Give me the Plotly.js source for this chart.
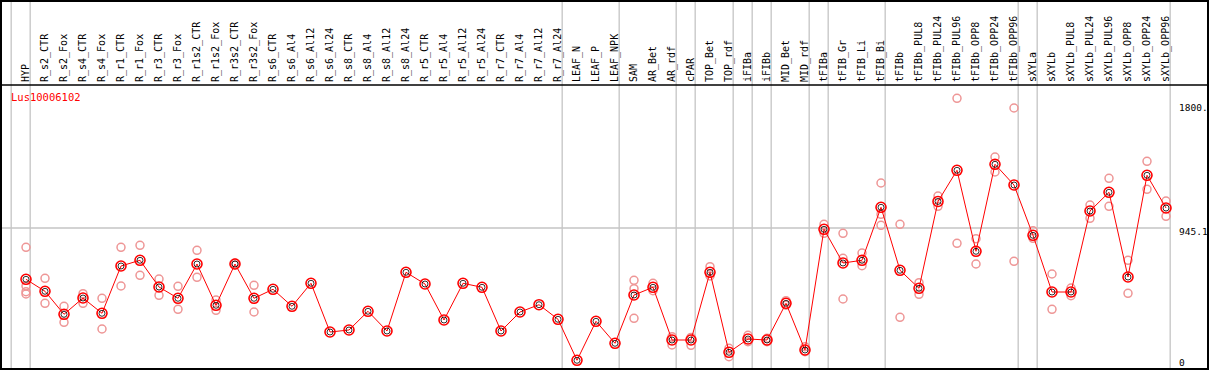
<!DOCTYPE html>
<html><head><meta charset="utf-8">
<script src="https://cdn.plot.ly/plotly-3.0.1.min.js"></script>
<style>html,body{margin:0;padding:0;background:#fff;}#chart{width:1209px;height:370px;}</style>
</head><body><div id="chart"></div>
<script>
const geneName = "Lus10006102";
const categories = ["HYP","R_s2_CTR","R_s2_Fox","R_s4_CTR","R_s4_Fox","R_r1_CTR","R_r1_Fox","R_r3_CTR","R_r3_Fox","R_r1s2_CTR","R_r1s2_Fox","R_r3s2_CTR","R_r3s2_Fox","R_s6_CTR","R_s6_Al4","R_s6_Al12","R_s6_Al24","R_s8_CTR","R_s8_Al4","R_s8_Al12","R_s8_Al24","R_r5_CTR","R_r5_Al4","R_r5_Al12","R_r5_Al24","R_r7_CTR","R_r7_Al4","R_r7_Al12","R_r7_Al24","LEAF_N","LEAF_P","LEAF_NPK","SAM","AR_Bet","AR_rdf","cPAR","TOP_Bet","TOP_rdf","iFIBa","iFIBb","MID_Bet","MID_rdf","tFIBa","tFIB_Gr","tFIB_Li","tFIB_Bi","tFIBb","tFIBb_PUL8","tFIBb_PUL24","tFIBb_PUL96","tFIBb_OPP8","tFIBb_OPP24","tFIBb_OPP96","sXYLa","sXYLb","sXYLb_PUL8","sXYLb_PUL24","sXYLb_PUL96","sXYLb_OPP8","sXYLb_OPP24","sXYLb_OPP96"];
const means = [586,502,341,455,348,679,719,532,453,693,404,693,453,516,397,558,217,231,362,224,635,553,301,558,530,224,357,408,306,19,292,138,476,530,161,161,635,75,168,161,418,91,936,700,719,1090,649,523,1131,1349,782,1391,1246,894,497,497,1064,1195,602,1314,1085];
const rep1 = [810,593,397,485,453,810,824,588,537,789,441,700,544,null,null,null,null,null,null,null,null,null,null,null,null,null,null,null,null,null,null,null,579,558,184,179,674,103,194,173,436,114,971,908,770,1260,971,562,1169,1853,870,1442,1785,926,623,525,1106,1293,719,1412,1134];
const rep2 = [539,418,285,418,238,539,614,474,376,600,369,686,357,null,null,null,null,null,null,null,null,null,null,null,null,null,null,null,null,null,null,null,520,506,126,124,609,44,149,149,405,79,908,733,681,1041,320,481,1097,838,693,1337,712,873,376,471,1013,1097,488,1216,1027];
const rep3 = [499,null,null,null,null,null,null,null,null,null,null,null,null,null,null,null,null,null,null,null,null,null,null,null,null,null,null,null,null,null,null,null,313,null,null,null,null,null,null,null,null,null,null,448,null,964,null,null,null,null,null,null,null,null,null,null,null,null,null,null,null];
const rep4 = [483,null,null,null,null,null,null,null,null,null,null,null,null,null,null,null,null,null,null,null,null,null,null,null,null,null,null,null,null,null,null,null,null,null,null,null,null,null,null,null,null,null,null,null,null,null,null,null,null,null,null,null,null,null,null,null,null,null,null,null,null];
const groupEnds = ["HYP","R_r7_Al24","LEAF_NPK","AR_rdf","cPAR","TOP_rdf","iFIBa","iFIBb","MID_rdf","tFIBa","tFIB_Bi","tFIBb_OPP96","sXYLa","sXYLb_OPP96"];
const refLine = 945.1;
const yTickValues = [0, 945.1, 1800];
const yTickLabels = ["0", "945.1", "1800."];

const repX = [], repY = [];
[rep1,rep2,rep3,rep4].forEach(r => r.forEach((v,i) => { if (v !== null) { repX.push(categories[i]); repY.push(v); } }));

const traces = [
  {x: categories, y: means, type:'scatter', mode:'none', hoverinfo:'skip', showlegend:false},
  {x: repX, y: repY, type:'scatter', mode:'markers', hoverinfo:'skip',
   marker:{symbol:'circle-open', size:8, color:'rgb(238,150,150)', line:{width:1.5, color:'rgb(238,150,150)'}}},
  {x: categories, y: means, type:'scatter', mode:'lines', hoverinfo:'skip',
   line:{color:'#ff0000', width:1}},
  {x: categories, y: means, type:'scatter', mode:'markers', hoverinfo:'skip',
   marker:{symbol:'circle-open', size:10, color:'#ff0000', line:{width:1.6, color:'#ff0000'}}},
  {x: categories, y: means, type:'scatter', mode:'markers', hoverinfo:'skip',
   marker:{symbol:'circle-open', size:6, color:'#000000', line:{width:0.8, color:'#3a0000'}}}
];

const W = 1209, H = 370, T = 85;
const plotH = H - T;
const xLo = -26/19, xHi = (W-26)/19;
const pxToPaperY = py => (H - py) / plotH;
const shapes = [];
const sepIdx = [-1].concat(groupEnds.map(n => categories.indexOf(n)));
sepIdx.forEach(i => shapes.push({type:'line', xref:'x', yref:'paper', x0:i+0.22, x1:i+0.22, y0:0, y1:pxToPaperY(0), line:{color:'#c4c4c4', width:1.3}, layer:'below'}));
shapes.push({type:'line', xref:'x', yref:'y', x0:xLo, x1:categories.length-1+0.22, y0:refLine, y1:refLine, line:{color:'#c4c4c4', width:1.3}, layer:'below'});
shapes.push({type:'line', xref:'paper', yref:'paper', x0:0, x1:1, y0:1, y1:1, line:{color:'#000', width:1.6}});
shapes.push({type:'rect', xref:'paper', yref:'paper', x0:1/W, x1:(W-1)/W, y0:pxToPaperY(369), y1:pxToPaperY(1), line:{color:'#000', width:2}, fillcolor:'rgba(0,0,0,0)'});

const annotations = [
  {xref:'paper', yref:'paper', x:9/W, y:pxToPaperY(97), xanchor:'left', yanchor:'middle', text:geneName, showarrow:false, font:{family:'DejaVu Sans Mono', size:10.5, color:'#ff0000'}}
];
const labelShift = [1, -4, -2];
yTickValues.forEach((v,k) => annotations.push({xref:'paper', yref:'y', x:1177/W, y:v, yshift:labelShift[k], xanchor:'left', yanchor:'middle', text:yTickLabels[k], showarrow:false, font:{family:'DejaVu Sans Mono', size:9.5, color:'#000'}}));

const layout = {
  width:W, height:H, margin:{l:0, r:0, t:T, b:0, pad:0},
  paper_bgcolor:'#fff', plot_bgcolor:'#fff', showlegend:false,
  xaxis:{type:'category', categoryorder:'array', categoryarray:categories, range:[xLo, xHi], side:'top', tickangle:-90, showgrid:false, zeroline:false, showline:false, ticks:'', ticklabelstandoff:2,
         tickfont:{family:'DejaVu Sans Mono', size:10, color:'#000'}, fixedrange:true, automargin:false},
  yaxis:{range:[-(H-363)*7, (363-T)*7], showgrid:false, zeroline:false, showline:false, showticklabels:false, ticks:'', fixedrange:true},
  shapes:shapes, annotations:annotations
};
Plotly.newPlot('chart', traces, layout, {staticPlot:true, displayModeBar:false});
</script></body></html>
